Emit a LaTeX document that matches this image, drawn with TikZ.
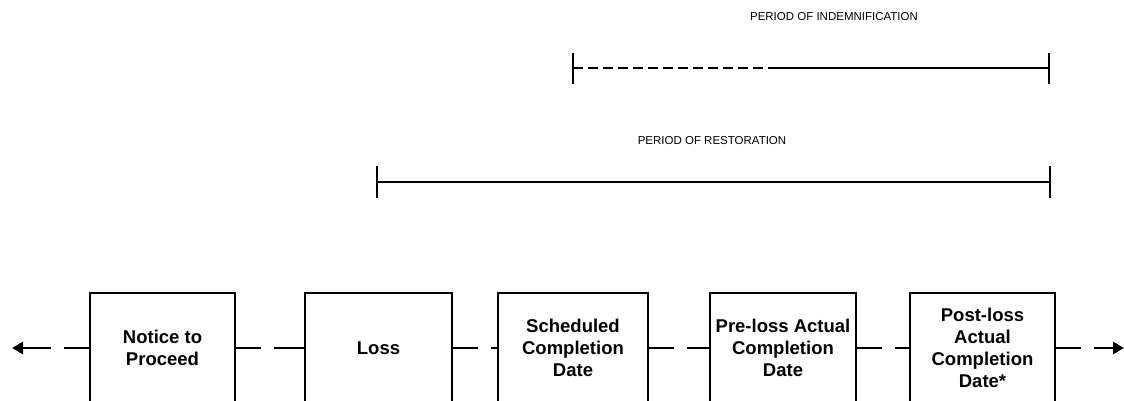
\documentclass[tikz,border=0pt]{standalone}
\usepackage{fontspec}
\setmainfont{Liberation Sans}
\usetikzlibrary{arrows.meta}
\tikzset{
  box/.style={draw=black, line width=1.4pt, fill=white, minimum width=#1, minimum height=110pt,
    inner sep=0pt, align=center, font=\fontsize{18.5}{22}\selectfont\bfseries},
  conn/.style={line width=2.8pt, dash pattern=on 25pt off 13pt on 400pt},
  bar/.style={line width=2.6pt},
  tick/.style={line width=2.6pt},
  lbl/.style={font=\fontsize{11.5}{13}\selectfont, inner sep=0pt},
  tip/.style={-{Triangle[length=11pt,width=12pt]}}
}
\begin{document}
\begin{tikzpicture}[x=1pt,y=-1pt]
\useasboundingbox (0,0) rectangle (1124,400);
\clip (0,0) rectangle (1124,400);
\fill[white] (0,0) rectangle (1124,400);
% top labels
\node[lbl] (lind) at (834,17) {PERIOD OF INDEMNIFICATION};
\node[lbl] (lres) at (712,141) {PERIOD OF RESTORATION};
% indemnification bar
\coordinate (iL) at (573,68);
\coordinate (iM) at (773,68);
\coordinate (iR) at (1049,68);
\draw[bar, dash pattern=on 10pt off 5pt] (iL) -- (iM);
\draw[bar] (iM) -- (iR);
\draw[tick] ([yshift=-16pt]iL) -- ([yshift=15pt]iL);
\draw[tick] ([yshift=-16pt]iR) -- ([yshift=15pt]iR);
% restoration bar
\coordinate (rL) at (377,182);
\coordinate (rR) at (1050,182);
\draw[bar] (rL) -- (rR);
\draw[tick] ([yshift=-16pt]rL) -- ([yshift=16pt]rL);
\draw[tick] ([yshift=-16pt]rR) -- ([yshift=16pt]rR);
% boxes
\node[box=145pt] (n1) at (162.5,348) {Notice to\\Proceed};
\node[box=147pt] (n2) at (378.5,348) {Loss};
\node[box=150pt] (n3) at (573,348) {Scheduled\\Completion\\Date};
\node[box=146pt] (n4) at (783,348) {Pre-loss Actual\\Completion\\Date};
\node[box=145pt] (n5) at (982.5,348) {Post-loss\\Actual\\Completion\\Date*};
% connectors
\coordinate (lend) at (12,348);
\coordinate (rend) at (1124,348);
\draw[conn, tip] (n1.west) -- (lend);
\draw[conn] (n1.east) -- (n2.west);
\draw[conn] (n2.east) -- (n3.west);
\draw[conn] (n3.east) -- (n4.west);
\draw[conn] (n4.east) -- (n5.west);
\draw[conn, tip] (n5.east) -- (rend);
\end{tikzpicture}
\end{document}
